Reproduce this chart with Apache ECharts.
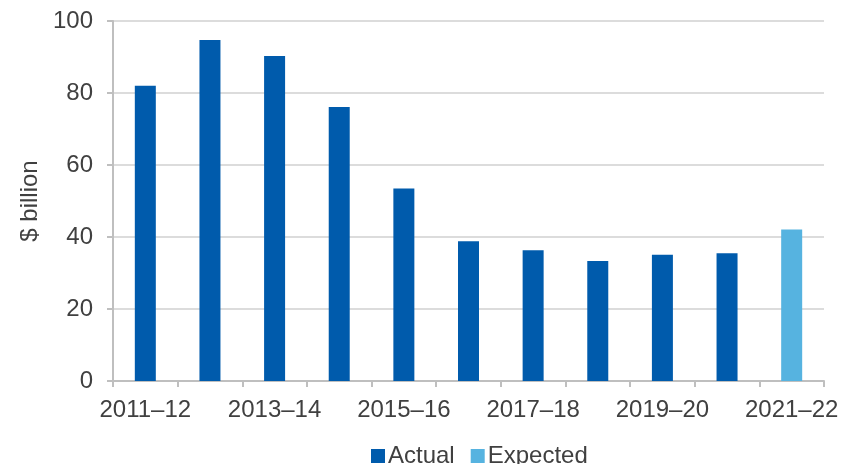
<!DOCTYPE html>
<html>
<head>
<meta charset="utf-8">
<script src="https://cdn.jsdelivr.net/npm/echarts@6/dist/echarts.min.js"></script>
<style>
  html, body { margin: 0; padding: 0; background: #fff; }
  #chart { width: 856px; height: 464px; }
</style>
</head>
<body>
<div id="chart"></div>
<script>
// Financial years shown on the x axis
const years = [
  "2011–12", "2012–13", "2013–14", "2014–15", "2015–16", "2016–17",
  "2017–18", "2018–19", "2019–20", "2020–21", "2021–22"
];

// $ billion
const actualValues = [82.0, 94.7, 90.3, 76.1, 53.5, 38.8, 36.3, 33.3, 35.1, 35.5, null];
const expectedValues = [null, null, null, null, null, null, null, null, null, null, 42.1];

const yTicks = { min: 0, max: 100, interval: 20 };

const textColor = "#404040";
const fontFamily = "Liberation Sans, Arial, sans-serif";

const chart = echarts.init(document.getElementById("chart"));

const option = {
  animation: false,
  textStyle: { fontFamily: fontFamily },
  grid: { left: 113, right: 32, top: 21, bottom: 83 },
  legend: {
    left: 371,
    top: 444,
    padding: 0,
    icon: "rect",
    itemWidth: 14,
    itemHeight: 14,
    itemGap: 16,
    textStyle: { fontSize: 24, color: textColor, padding: [0, 0, 0, -2] },
    data: ["Actual", "Expected"],
  },
  xAxis: {
    type: "category",
    data: years,
    axisLine: { lineStyle: { color: "#bfbfbf", width: 2 } },
    axisTick: { show: true, length: 6, interval: 0, lineStyle: { color: "#bfbfbf", width: 2 } },
    axisLabel: { interval: 1, fontSize: 24, color: textColor, margin: 17 },
  },
  yAxis: {
    type: "value",
    min: yTicks.min,
    max: yTicks.max,
    interval: yTicks.interval,
    name: "$ billion",
    nameLocation: "middle",
    nameGap: 68,
    nameTextStyle: { fontSize: 24, color: textColor },
    axisLine: { show: true, lineStyle: { color: "#bfbfbf", width: 2 } },
    axisTick: { show: true, length: 6, lineStyle: { color: "#bfbfbf", width: 2 } },
    axisLabel: { fontSize: 24, color: textColor, margin: 20 },
    splitLine: { lineStyle: { color: "#d0d0d0", width: 1.5 } },
  },
  series: [
    {
      name: "Actual",
      type: "bar",
      stack: "total",
      barWidth: 21,
      data: actualValues,
      itemStyle: { color: "#005bac" },
    },
    {
      name: "Expected",
      type: "bar",
      stack: "total",
      barWidth: 21,
      data: expectedValues,
      itemStyle: { color: "#56b3e0" },
    },
  ],
};

chart.setOption(option);
window.addEventListener("resize", () => chart.resize());
</script>
</body>
</html>
